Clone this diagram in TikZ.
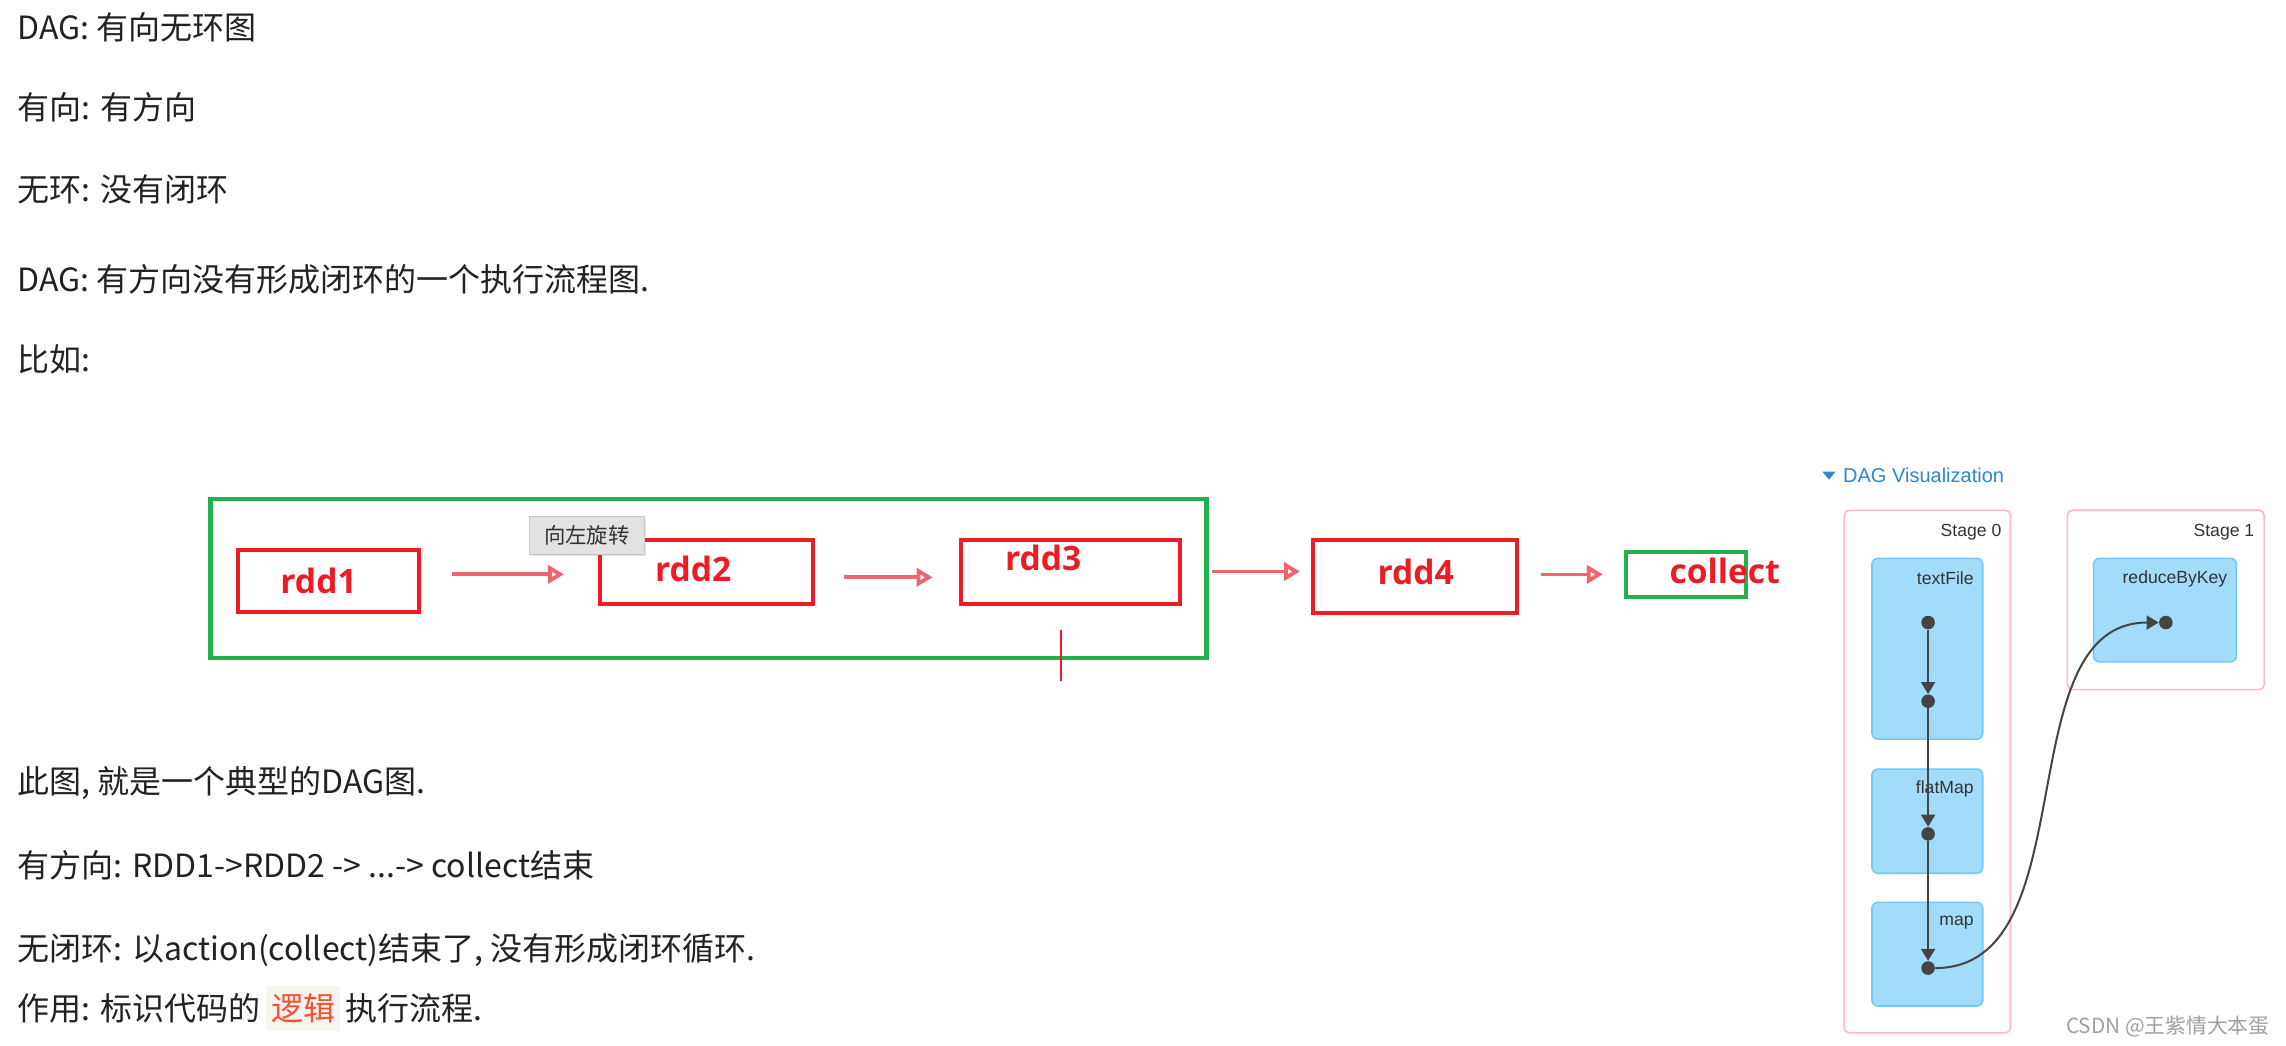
\documentclass[tikz,border=0pt]{standalone}
\usepackage{fontspec}
\setmainfont{Noto Sans CJK SC}
\newfontfamily\cjkfont{Noto Sans CJK SC}
\newfontfamily\labfont{Open Sans}
\newfontfamily\uifont{Liberation Sans}
\usetikzlibrary{arrows.meta,shadows}
\definecolor{txt}{RGB}{34,34,34}
\definecolor{rddred}{RGB}{237,28,36}
\definecolor{grn}{RGB}{34,177,76}
\definecolor{arrred}{RGB}{240,100,112}
\definecolor{tipgray}{RGB}{226,226,226}
\definecolor{tipborder}{RGB}{200,200,200}
\definecolor{sparkblue}{RGB}{43,136,205}
\definecolor{stagepink}{RGB}{255,185,198}
\definecolor{opfill}{RGB}{161,221,251}
\definecolor{opborder}{RGB}{115,200,248}
\definecolor{edgegray}{RGB}{68,68,68}
\definecolor{uitext}{RGB}{51,51,51}
\definecolor{hlbg}{RGB}{248,244,238}
\definecolor{hltext}{RGB}{246,80,50}
\definecolor{wm}{RGB}{160,160,160}
\begin{document}
\begin{tikzpicture}[x=0.729pt,y=-0.729pt,
  body/.style={font=\cjkfont\fontsize{16}{19}\selectfont, text=txt, inner sep=0pt, anchor=base west},
  rbox/.style={draw=rddred, line width=2pt, inner sep=0pt},
  gbox/.style={draw=grn, line width=2.2pt, inner sep=0pt},
  rlab/.style={font=\labfont\bfseries\fontsize{16.8}{20}\selectfont, text=rddred, inner sep=0pt, anchor=base},
  rarrow/.style={draw=arrred, line width=1.9pt, -{Triangle[open, length=8pt, width=9pt]}},
  stagebox/.style={draw=stagepink, line width=0.8pt, fill=white, rounded corners=2.5pt, inner sep=0pt},
  opbox/.style={draw=opborder, line width=0.8pt, fill=opfill, rounded corners=3pt, inner sep=0pt},
  uilab/.style={font=\uifont\fontsize{8.8}{10}\selectfont, text=uitext, inner sep=0pt, anchor=base east},
  dagdot/.style={circle, fill=edgegray, inner sep=0pt, minimum size=6.8pt},
  dagedge/.style={draw=edgegray, line width=1pt, -{Triangle[length=6pt, width=7pt]}},
]
\useasboundingbox[fill=white] (0,0) rectangle (1568,717);

% ---- top text ----
\node[body] (t1) at (12,27) {DAG: 有向无环图};
\node[body] (t2) at (12,82) {有向: 有方向};
\node[body] (t3) at (12,138) {无环: 没有闭环};
\node[body] (t4) at (12,200) {DAG: 有方向没有形成闭环的一个执行流程图.};
\node[body] (t5) at (12,255) {比如:};

% ---- left diagram ----
\node[gbox, minimum width=497.9pt, minimum height=79.5pt] (grp) at (486,397) {};
\node[rbox, minimum width=90.4pt, minimum height=30.6pt] (rdd1) at (225.5,398.5) {};
\node[rbox, minimum width=106.4pt, minimum height=32.1pt] (rdd2) at (484.5,392.5) {};
\node[rbox, minimum width=109.4pt, minimum height=32.1pt] (rdd3) at (734.5,392.5) {};
\node[rbox, minimum width=102.1pt, minimum height=36.5pt] (rdd4) at (970.5,395.5) {};
\node[gbox, minimum width=59.8pt, minimum height=22.6pt] (col) at (1156.5,394) {};

\node[rlab] (l1) at (218.5,407) {rdd1};
\node[rlab] (l2) at (475.5,399) {rdd2};
\node[rlab] (l3) at (715.5,391) {rdd3};
\node[rlab] (l4) at (971,401) {rdd4};
\node[rlab] (l5) at (1183,400) {collect};

\draw[rarrow, shorten <=15.6pt, shorten >=17pt] ([yshift=3.3pt]rdd1.east) -- ([yshift=3.3pt]rdd1.east -| rdd2.west);
\draw[rarrow, shorten <=14.8pt, shorten >=13.4pt] ([yshift=-2.55pt]rdd2.east) -- ([yshift=-2.55pt]rdd2.east -| rdd3.west);
\draw[rarrow, shorten <=1.5pt, shorten >=5.4pt] ([yshift=2.55pt]grp.east |- rdd4.west) -- ([yshift=2.55pt]rdd4.west);
\draw[rarrow, shorten <=11.2pt, shorten >=10.6pt] ([yshift=1.1pt]rdd4.east) -- ([yshift=1.1pt]rdd4.east -| col.west);

\coordinate (vt) at (728,432);
\coordinate (vb) at (728,467);
\draw[rddred, line width=1pt] (vt) -- (vb);

\node[fill=tipgray, draw=tipborder, line width=0.4pt, minimum width=57.6pt, minimum height=19pt, inner sep=0pt,
  drop shadow={opacity=0.2, shadow xshift=0.8pt, shadow yshift=-0.8pt},
  font=\cjkfont\fontsize{10.7}{12}\selectfont, text=uitext] (tip) at (402.5,367) {向左旋转};

% ---- bottom text ----
\node[body] (b1) at (12,544) {此图, 就是一个典型的DAG图.};
\node[body] (b2) at (12,602) {有方向: RDD1->RDD2 -> ...-> collect结束};
\node[body] (b3) at (12,659) {无闭环: 以action(collect)结束了, 没有形成闭环循环.};
\node[body] (b4) at (12,700) {作用: 标识代码的};
\node[body, fill=hlbg, text=hltext, inner xsep=2.5pt, inner ysep=4pt] (hl) at ([xshift=2.5pt]b4.base east) {逻辑};
\node[body] (b5) at ([xshift=2.5pt]hl.base east) {执行流程.};

% ---- right DAG visualization ----
\fill[sparkblue] (1250,323.5) -- (1259,323.5) -- (1254.5,329) -- cycle;
\node[font=\uifont\fontsize{10}{12}\selectfont, text=sparkblue, inner sep=0pt, anchor=base west] (dv) at (1264,331) {DAG Visualization};

\node[stagebox, minimum width=83.1pt, minimum height=261.3pt] (s0) at (1322,529.25) {};
\node[stagebox, minimum width=98.4pt, minimum height=89.7pt] (s1) at (1485.5,411.5) {};
\node[uilab] at (1373,368) {Stage 0};
\node[uilab] at (1546.5,368) {Stage 1};

\node[opbox, minimum width=55.4pt, minimum height=90.4pt] (tf) at (1322,445) {};
\node[opbox, minimum width=55.4pt, minimum height=52.1pt] (fm) at (1322,563.25) {};
\node[opbox, minimum width=55.4pt, minimum height=51.8pt] (mp) at (1322,654.5) {};
\node[opbox, minimum width=71.4pt, minimum height=51.8pt] (rk) at (1485,418.5) {};

\node[uilab] at (1354,401) {textFile};
\node[uilab] at (1354,544) {flatMap};
\node[uilab] at (1354,635) {map};
\node[uilab] at (1528,400) {reduceByKey};

\node[dagdot] (d1) at (1322.5,427) {};
\node[dagdot] (d2) at (1322.5,481) {};
\node[dagdot] (d3) at (1322.5,572) {};
\node[dagdot] (d4) at (1322.5,664) {};
\node[dagdot] (d5) at (1485.6,427) {};

\draw[dagedge] (d1) -- (d2);
\draw[dagedge] (d2) -- (d3);
\draw[dagedge] (d3) -- (d4);
\draw[dagedge] (d4) .. controls +(110,0) and +(-110,0) .. (d5);

\node[font=\cjkfont\fontsize{10.4}{12}\selectfont, text=wm, inner sep=0pt, anchor=base east] (wmk) at (1557,709) {CSDN @王紫情大本蛋};
\end{tikzpicture}
\end{document}
